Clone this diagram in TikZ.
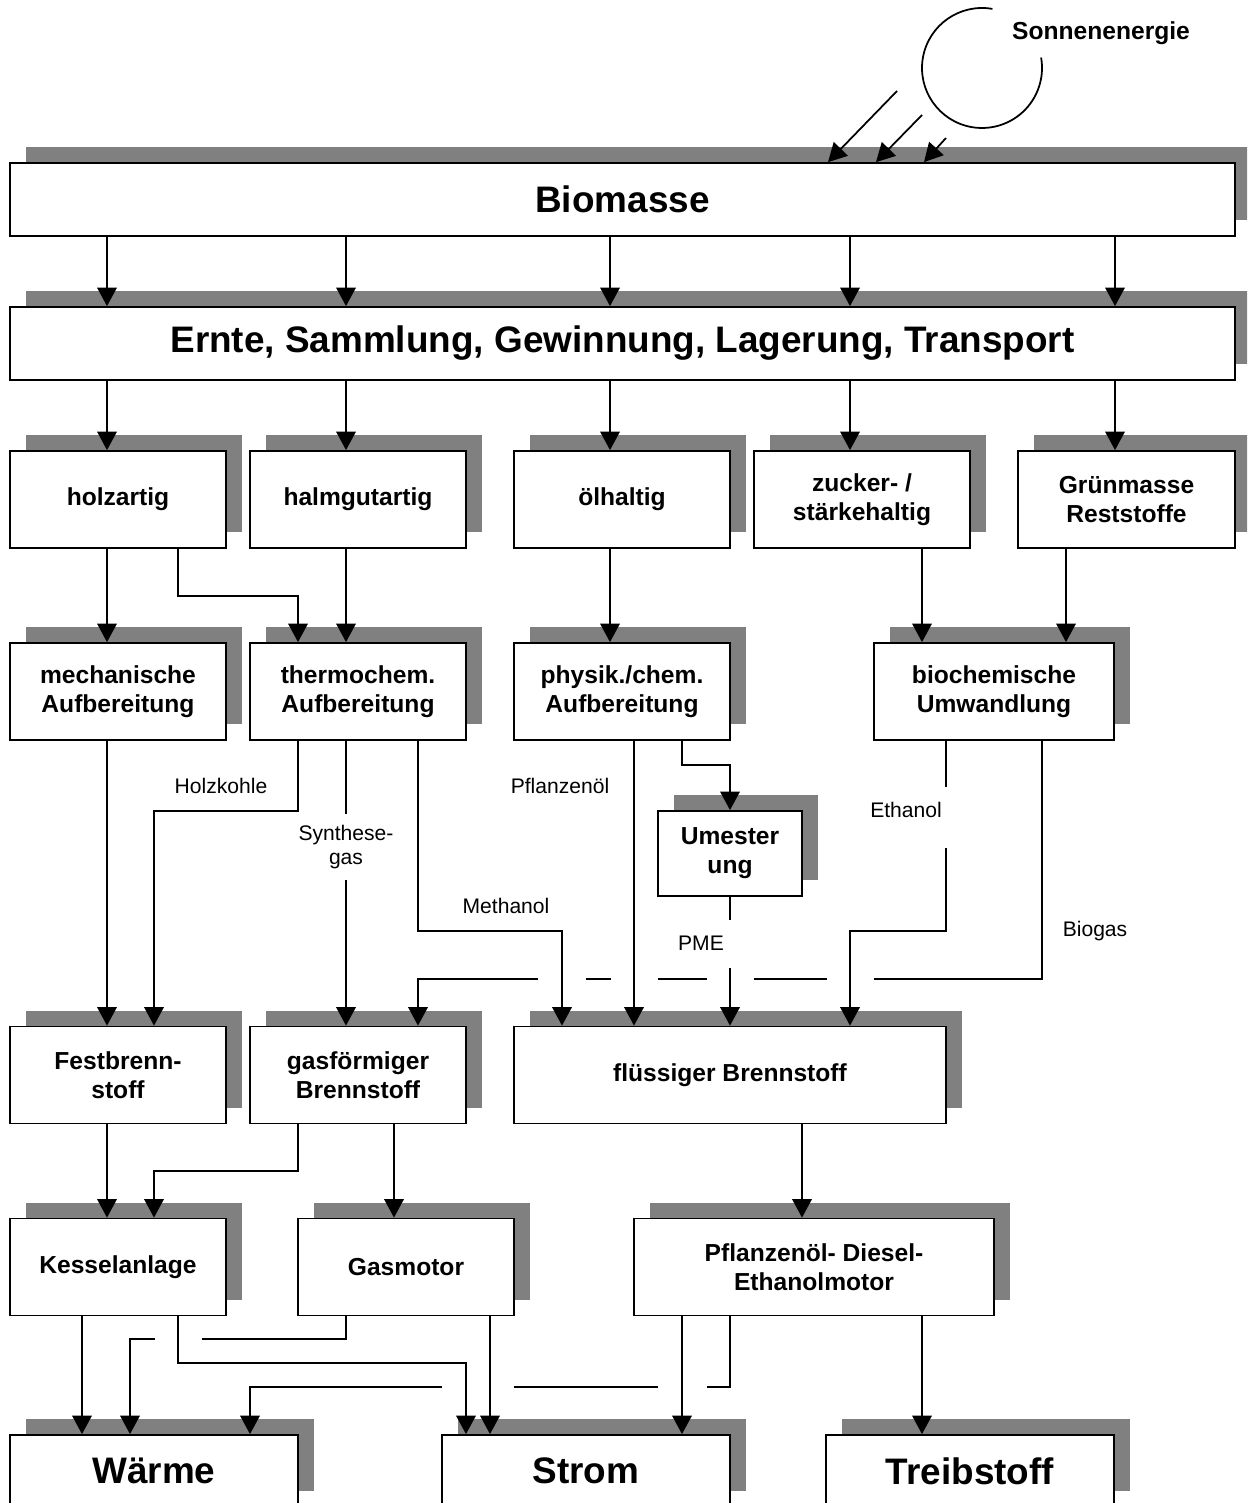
\documentclass[tikz,border=0pt]{standalone}
\usepackage{fontspec}
\setmainfont{Liberation Sans}
\usetikzlibrary{arrows.meta,shadows}
\definecolor{schatten}{RGB}{128,128,128}

\begin{document}
\begin{tikzpicture}[x=0.02cm, y=-0.02cm,
  every node/.style={font=\fontsize{12}{14}\selectfont},
  kasten/.style={draw, line width=1pt, fill=white, inner sep=0pt, align=center,
    minimum width=4.32cm, minimum height=1.94cm,
    font=\bfseries\fontsize{14}{16.5}\selectfont,
    general shadow={fill=schatten, shadow xshift=0.32cm, shadow yshift=0.32cm}},
  gross/.style={kasten, font=\bfseries\fontsize{21}{24}\selectfont},
  pfeil/.style={line width=1pt, -{Triangle[length=0.37cm, width=0.39cm]}},
  linie/.style={line width=1pt},
  luecke/.style={white, line width=4pt}]

\useasboundingbox (0,0) rectangle (1247,1503);
\clip (0,0) rectangle (1247,1503);

% --- Kaesten ---
\node[gross, minimum width=24.5cm, minimum height=1.46cm] (bio) at (622.5,199.5) {Biomasse};
\node[gross, minimum width=24.5cm, minimum height=1.46cm] (ernte) at (622.5,343.5) {Ernte, Sammlung, Gewinnung, Lagerung, Transport};

% Rohstoffe
\node[kasten] (holz)   at (118,499.5) {holzartig};
\node[kasten] (halm)   at (358,499.5) {halmgutartig};
\node[kasten] (oel)    at (622,499.5) {ölhaltig};
\node[kasten] (zucker) at (862,499.5) {zucker- /\\stärkehaltig};
\node[kasten, minimum width=4.34cm] (gruen) at (1126.5,499.5) {Grünmasse\\Reststoffe};

% Aufbereitung
\node[kasten] (mech)   at (118,691.5) {mechanische\\Aufbereitung};
\node[kasten] (thermo) at (358,691.5) {thermochem.\\Aufbereitung};
\node[kasten] (physik) at (622,691.5) {physik./chem.\\Aufbereitung};
\node[kasten, minimum width=4.8cm] (biochem) at (994,691.5) {biochemische\\Umwandlung};
\node[kasten, minimum width=2.88cm, minimum height=1.7cm] (umester) at (730,853.5) {Umester\\ung};

% Brennstoffe
\node[kasten] (fest) at (118,1075) {Festbrenn-\\stoff};
\node[kasten] (gas)  at (358,1075) {gasförmiger\\Brennstoff};
\node[kasten, minimum width=8.64cm] (fluessig) at (730,1075) {flüssiger Brennstoff};

% Anlagen
\node[kasten] (kessel)   at (118,1267) {Kesselanlage};
\node[kasten] (gasmotor) at (406,1267) {Gasmotor};
\node[kasten, minimum width=7.2cm] (pmotor) at (814,1267) {Pflanzenöl- Diesel-\\Ethanolmotor};

% Nutzung
\node[gross, minimum width=5.76cm, minimum height=1.44cm] (waerme) at (154,1471) {Wärme};
\node[gross, minimum width=5.76cm, minimum height=1.44cm] (strom)  at (586,1471) {Strom};
\node[gross, minimum width=5.76cm, minimum height=1.44cm] (treib)  at (970,1471) {Treibstoff};

% --- Sonne ---
\draw[linie] (982,68) ++(-80:60) arc[start angle=-80, end angle=-370, radius=60];
\node[font=\bfseries\fontsize{14}{17}\selectfont] (sonne) at (1101,33) {Sonnenenergie};
\foreach \sx/\sy/\ex in {897/91/828, 922/115/876, 946/138/924} {
  \draw[pfeil] (\sx,\sy) -- (bio.north -| \ex,0);
}

% --- Biomasse -> Ernte -> Rohstoffe ---
\foreach \x in {107,346,610,850,1115} {
  \draw[pfeil] (bio.south -| \x,0) -- (ernte.north -| \x,0);
}
\foreach \x/\n in {107/holz,346/halm,610/oel,850/zucker,1115/gruen} {
  \draw[pfeil] (ernte.south -| \x,0) -- (\n.north -| \x,0);
}

% --- Rohstoffe -> Aufbereitung ---
\draw[pfeil] (holz.south -| 107,0) -- (mech.north -| 107,0);
\draw[pfeil] (holz.south -| 178,0) |- (298,596) -- (thermo.north -| 298,0);
\draw[pfeil] (halm.south -| 346,0) -- (thermo.north -| 346,0);
\draw[pfeil] (oel.south -| 610,0) -- (physik.north -| 610,0);
\draw[pfeil] (zucker.south -| 922,0) -- (biochem.north -| 922,0);
\draw[pfeil] (gruen.south -| 1066,0) -- (biochem.north -| 1066,0);
\draw[pfeil] (physik.south -| 682,0) |- (730,765) -- (umester.north);

% --- Aufbereitung -> Brennstoffe ---
\coordinate (pmeA) at (730,920);
\coordinate (pmeB) at (730,968);
\coordinate (ethA) at (946,787);
\coordinate (ethB) at (946,848);

% Biogas zuerst, mit Luecken an den Kreuzungen
\draw[pfeil] (biochem.south -| 1042,0) |- (418,979) -- (gas.north -| 418,0);
\draw[luecke] (538,979) -- (586,979);
\draw[luecke] (611,979) -- (658,979);
\draw[luecke] (707,979) -- (754,979);
\draw[luecke] (827,979) -- (874,979);

\draw[pfeil] (mech.south -| 107,0) -- (fest.north -| 107,0);
\draw[pfeil] (thermo.south -| 298,0) |- (154,811) -- (fest.north -| 154,0);
\draw[pfeil] (thermo.south -| 346,0) -- (gas.north -| 346,0);
\draw[pfeil] (thermo.south -| 418,0) |- (562,931) -- (fluessig.north -| 562,0);
\draw[pfeil] (physik.south -| 634,0) -- (fluessig.north -| 634,0);
\draw[linie] (umester.south) -- (pmeA);
\draw[pfeil] (pmeB) -- (fluessig.north -| pmeB);
\draw[linie] (biochem.south -| ethA) -- (ethA);
\draw[pfeil] (ethB) |- (850,931) -- (fluessig.north -| 850,0);

% --- Brennstoffe -> Anlagen ---
\draw[pfeil] (fest.south -| 107,0) -- (kessel.north -| 107,0);
\draw[pfeil] (gas.south -| 298,0) |- (154,1171) -- (kessel.north -| 154,0);
\draw[pfeil] (gas.south -| 394,0) -- (gasmotor.north -| 394,0);
\draw[pfeil] (fluessig.south -| 802,0) -- (pmotor.north -| 802,0);

% --- Anlagen -> Nutzung ---
\draw[pfeil] (gasmotor.south -| 346,0) |- (130,1339) -- (waerme.north -| 130,0);
\draw[luecke] (155,1339) -- (202,1339);
\draw[pfeil] (pmotor.south -| 730,0) |- (250,1387) -- (waerme.north -| 250,0);
\draw[luecke] (442,1387) -- (514,1387);
\draw[luecke] (658,1387) -- (707,1387);

\draw[pfeil] (kessel.south -| 82,0) -- (waerme.north -| 82,0);
\draw[pfeil] (kessel.south -| 178,0) |- (466,1363) -- (strom.north -| 466,0);
\draw[pfeil] (gasmotor.south -| 490,0) -- (strom.north -| 490,0);
\draw[pfeil] (pmotor.south -| 682,0) -- (strom.north -| 682,0);
\draw[pfeil] (pmotor.south -| 922,0) -- (treib.north -| 922,0);

% --- Beschriftungen ---
\node (holzkohle) at (221,786) {Holzkohle};
\node[fill=white, align=center, inner xsep=2pt, inner ysep=0.22cm] (synthese) at (346,847) {Synthese-\\gas};
\node (methanol) at (506,906) {Methanol};
\node (pflanzenoel) at (560,786) {Pflanzenöl};
\node (pme) at (701,943) {PME};
\node (ethanol) at (906,810) {Ethanol};
\node (biogas) at (1095,931) {Biogas};

\end{tikzpicture}
\end{document}
